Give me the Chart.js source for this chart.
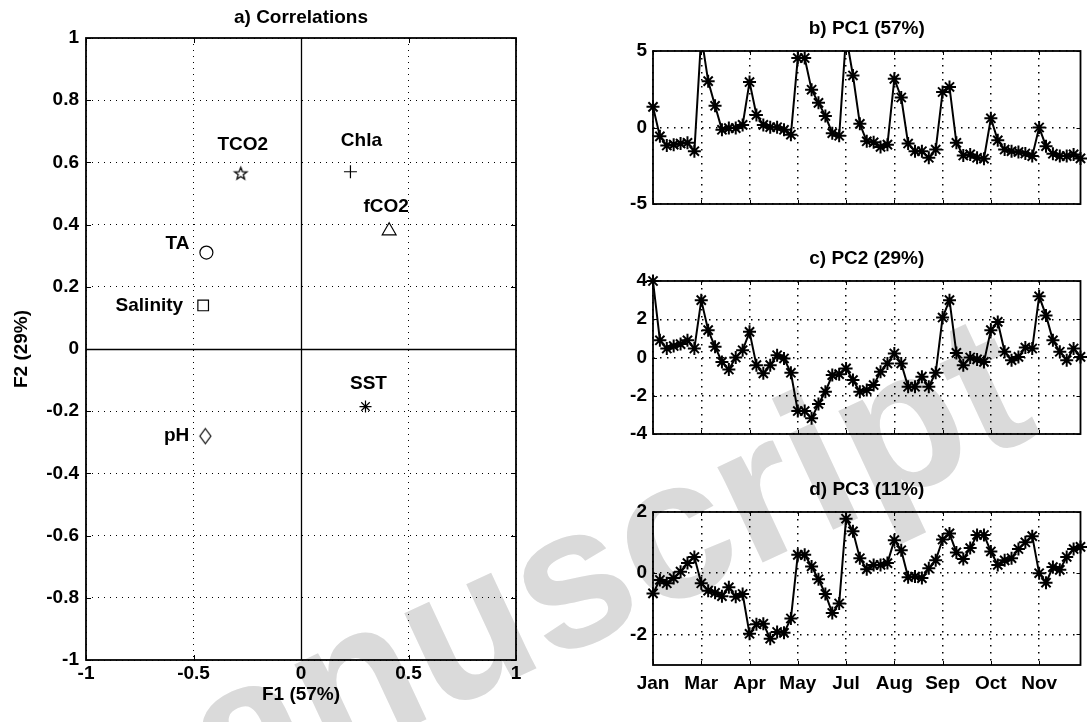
<!DOCTYPE html>
<html>
<head>
<meta charset="utf-8">
<script src="https://cdn.jsdelivr.net/npm/chart.js@4/dist/chart.umd.min.js"></script>
<style>
  html, body { margin: 0; padding: 0; background: #fff; }
  #wrap { position: relative; width: 1089px; height: 722px; overflow: hidden; background: #fff; }
  #wrap canvas { position: absolute; left: 0; top: 0; }
</style>
</head>
<body>
<div id="wrap">
  <canvas id="stamp" width="1089" height="722"></canvas>
  <canvas id="corr" width="1089" height="722"></canvas>
  <canvas id="pc1" width="1089" height="722"></canvas>
  <canvas id="pc2" width="1089" height="722"></canvas>
  <canvas id="pc3" width="1089" height="722"></canvas>
</div>
<script>
// ---- a) correlation circle: loadings of each variable on F1 / F2 ----
const variables  = ['TCO2', 'Chla', 'fCO2', 'TA', 'Salinity', 'SST', 'pH'];
const f1Loadings = [-0.28, 0.23, 0.41, -0.44, -0.455, 0.30, -0.445];
const f2Loadings = [0.565, 0.57, 0.38, 0.31, 0.14, -0.185, -0.28];
const corrTicksX = [-1, -0.5, 0, 0.5, 1];
const corrTicksY = [-1, -0.8, -0.6, -0.4, -0.2, 0, 0.2, 0.4, 0.6, 0.8, 1];

// ---- b-d) principal component scores through the year ----
const monthLabels    = ['Jan', 'Mar', 'Apr', 'May', 'Jul', 'Aug', 'Sep', 'Oct', 'Nov'];
const monthTickIndex = [0, 7, 14, 21, 28, 35, 42, 49, 56];
const pc1Scores = [1.35, -0.58, -1.18, -1.12, -1.05, -1.0, -1.55, 6.0, 3.03, 1.42,
  -0.15, -0.04, -0.04, 0.17, 2.97, 0.82, 0.17, 0.02, 0.02, -0.15,
  -0.47, 4.54, 4.54, 2.47, 1.61, 0.75, -0.37, -0.54, 6.0, 3.4,
  0.24, -0.9, -0.97, -1.27, -1.12, 3.18, 1.96, -1.05, -1.55, -1.55,
  -1.98, -1.44, 2.32, 2.65, -1.0, -1.83, -1.76, -1.98, -2.04, 0.6,
  -0.84, -1.44, -1.55, -1.6, -1.7, -1.87, 0.0, -1.22, -1.72, -1.87,
  -1.87, -1.76, -2.02];
const pc2Scores = [4.0, 0.9, 0.47, 0.6, 0.7, 0.9, 0.47, 3.0, 1.43, 0.56,
  -0.23, -0.63, 0.0, 0.38, 1.34, -0.4, -0.83, -0.4, 0.12, -0.05,
  -0.8, -2.8, -2.8, -3.18, -2.43, -1.79, -0.92, -0.87, -0.57, -1.18,
  -1.79, -1.7, -1.44, -0.75, -0.31, 0.21, -0.31, -1.53, -1.53, -1.0,
  -1.53, -0.8, 2.09, 3.0, 0.24, -0.4, 0.0, -0.1, -0.23, 1.43,
  1.86, 0.3, -0.14, 0.03, 0.52, 0.47, 3.2, 2.2, 0.9, 0.3,
  -0.14, 0.47, 0.03];
const pc3Scores = [-0.66, -0.22, -0.33, -0.16, 0.05, 0.33, 0.53, -0.33, -0.57, -0.64,
  -0.75, -0.46, -0.77, -0.68, -1.98, -1.67, -1.65, -2.14, -1.92, -1.95,
  -1.48, 0.6, 0.6, 0.22, -0.2, -0.68, -1.3, -0.99, 1.78, 1.37,
  0.49, 0.13, 0.27, 0.27, 0.33, 1.08, 0.75, -0.13, -0.11, -0.16,
  0.16, 0.42, 1.1, 1.3, 0.68, 0.46, 0.82, 1.25, 1.25, 0.71,
  0.27, 0.42, 0.49, 0.79, 1.01, 1.21, 0.0, -0.31, 0.2, 0.11,
  0.53, 0.79, 0.86];
const pc1Ticks = [-5, 0, 5];
const pc2Ticks = [-4, -2, 0, 2, 4];
const pc3Ticks = [-2, 0, 2];

// ---- shared styling ----
const FONT_FAMILY = "'Liberation Sans', Arial, Helvetica, sans-serif";
const FONT = 'bold 19px ' + FONT_FAMILY;
Chart.defaults.font.family = FONT_FAMILY;
Chart.defaults.font.size = 19;
Chart.defaults.font.weight = 'bold';
Chart.defaults.color = '#000';

const fmt = v => String(Number(v.toFixed(2)));
const fixedTicks = list => scale => { scale.ticks = list.map(v => ({ value: v })); };

// Hollow marker shapes that Chart.js does not provide natively
function pentagram(r) {
  const size = Math.ceil(r * 2 + 4), c = document.createElement('canvas');
  c.width = c.height = size;
  const g = c.getContext('2d'), cx = size / 2, cy = size / 2 + 0.5;
  g.beginPath();
  for (let k = 0; k < 10; k++) {
    const rr = k % 2 === 0 ? r : r * 0.42;
    const a = -Math.PI / 2 + k * Math.PI / 5;
    const px = cx + rr * Math.cos(a), py = cy + rr * Math.sin(a);
    k === 0 ? g.moveTo(px, py) : g.lineTo(px, py);
  }
  g.closePath(); g.lineWidth = 1.3; g.strokeStyle = '#000'; g.stroke();
  return c;
}
function tallDiamond(w, h) {
  const c = document.createElement('canvas');
  c.width = w + 4; c.height = h + 4;
  const g = c.getContext('2d'), cx = c.width / 2, cy = c.height / 2;
  g.beginPath();
  g.moveTo(cx, cy - h / 2); g.lineTo(cx + w / 2, cy); g.lineTo(cx, cy + h / 2); g.lineTo(cx - w / 2, cy);
  g.closePath(); g.lineWidth = 1.2; g.strokeStyle = '#000'; g.stroke();
  return c;
}

// Axes box, inward tick marks, optional zero lines, panel and axis titles
const boxPlugin = {
  id: 'box',
  beforeDatasetsDraw(chart, args, o) {
    if (!o.zeroLines) return;
    const { ctx, chartArea: a, scales: { x, y } } = chart;
    ctx.save();
    ctx.strokeStyle = '#000'; ctx.lineWidth = 1.3;
    const x0 = Math.round(x.getPixelForValue(0)) + 0.5, y0 = Math.round(y.getPixelForValue(0)) + 0.5;
    ctx.beginPath();
    ctx.moveTo(x0, a.top); ctx.lineTo(x0, a.bottom);
    ctx.moveTo(a.left, y0); ctx.lineTo(a.right, y0);
    ctx.stroke();
    ctx.restore();
  },
  afterDatasetsDraw(chart, args, o) {
    const { ctx, chartArea: a, scales: { x, y } } = chart;
    ctx.save();
    ctx.strokeStyle = '#000'; ctx.lineWidth = 1;
    ctx.beginPath();
    const t = o.tickLen || 5;
    x.ticks.forEach(tk => {
      const p = Math.round(x.getPixelForValue(tk.value)) + 0.5;
      ctx.moveTo(p, a.bottom); ctx.lineTo(p, a.bottom - t);
      ctx.moveTo(p, a.top); ctx.lineTo(p, a.top + t);
    });
    y.ticks.forEach(tk => {
      const p = Math.round(y.getPixelForValue(tk.value)) + 0.5;
      ctx.moveTo(a.left, p); ctx.lineTo(a.left + t, p);
      ctx.moveTo(a.right, p); ctx.lineTo(a.right - t, p);
    });
    ctx.stroke();
    ctx.lineWidth = 1.8;
    ctx.strokeRect(a.left, a.top, a.right - a.left, a.bottom - a.top);

    ctx.fillStyle = '#000'; ctx.font = FONT;
    ctx.textAlign = 'center'; ctx.textBaseline = 'middle';
    if (o.title) ctx.fillText(o.title, (a.left + a.right) / 2, a.top - o.titleGap);
    if (o.xTitle) ctx.fillText(o.xTitle, (a.left + a.right) / 2, a.bottom + o.xTitleGap);
    if (o.yTitle) {
      ctx.translate(a.left - o.yTitleGap, (a.top + a.bottom) / 2);
      ctx.rotate(-Math.PI / 2);
      ctx.fillText(o.yTitle, 0, 0);
    }
    ctx.restore();
  }
};

// Variable names written next to their markers
const nameOffsets = [
  { dx: 2, dy: -29, align: 'center' },   // TCO2
  { dx: 11, dy: -31, align: 'center' },  // Chla
  { dx: -3, dy: -24, align: 'center' },  // fCO2
  { dx: -17, dy: -9, align: 'right' },   // TA
  { dx: -20, dy: 0, align: 'right' },    // Salinity
  { dx: 3, dy: -23, align: 'center' },   // SST
  { dx: -16, dy: 0, align: 'right' }     // pH
];
const namePlugin = {
  id: 'names',
  afterDatasetsDraw(chart) {
    const { ctx, scales: { x, y } } = chart;
    ctx.save();
    ctx.font = FONT; ctx.fillStyle = '#000'; ctx.textBaseline = 'middle';
    variables.forEach((name, i) => {
      const off = nameOffsets[i];
      ctx.textAlign = off.align;
      ctx.fillText(name, x.getPixelForValue(f1Loadings[i]) + off.dx, y.getPixelForValue(f2Loadings[i]) + off.dy);
    });
    ctx.restore();
  }
};

const dottedGrid = { color: '#000', lineWidth: 1, drawTicks: false };
const dottedBorder = { display: false, dash: [1, 5] };
const dottedGridBold = { color: '#000', lineWidth: 1.5, drawTicks: false };
const dottedBorderBold = { display: false, dash: [1.5, 5.5] };

// ---- a) Correlations ----
new Chart(document.getElementById('corr'), {
  type: 'scatter',
  data: {
    datasets: [{
      data: variables.map((_, i) => ({ x: f1Loadings[i], y: f2Loadings[i] })),
      pointStyle: [pentagram(6.5), 'cross', 'triangle', 'circle', 'rect', 'star', tallDiamond(11, 15)],
      pointRadius: [6.5, 6.5, 8, 6.5, 7.5, 6, 7],
      pointBorderWidth: 1.2,
      borderColor: '#000',
      backgroundColor: 'rgba(0,0,0,0)',
      clip: false
    }]
  },
  options: {
    responsive: false, animation: false, devicePixelRatio: 1,
    layout: { padding: { left: 0, top: 38, right: 573, bottom: 0 } },
    plugins: {
      legend: { display: false }, tooltip: { enabled: false },
      box: { zeroLines: true, title: 'a) Correlations', titleGap: 20, xTitle: 'F1 (57%)', xTitleGap: 35, yTitle: 'F2 (29%)', yTitleGap: 64 }
    },
    scales: {
      x: {
        type: 'linear', min: -1, max: 1,
        afterBuildTicks: fixedTicks(corrTicksX),
        afterFit: s => { s.height = 62; },
        grid: dottedGrid, border: dottedBorder,
        ticks: { padding: 2, autoSkip: false, maxRotation: 0, callback: v => fmt(v) }
      },
      y: {
        type: 'linear', min: -1, max: 1,
        afterBuildTicks: fixedTicks(corrTicksY),
        afterFit: s => { s.width = 86; },
        grid: dottedGrid, border: dottedBorder,
        ticks: { padding: 7, autoSkip: false, callback: v => fmt(v) }
      }
    }
  },
  plugins: [boxPlugin, namePlugin]
});

// ---- b) - d) score time series ----
function scorePanel(id, scores, yMin, yMax, yTicks, title, top, bottom, showMonths, clipTop) {
  return new Chart(document.getElementById(id), {
    type: 'line',
    data: {
      datasets: [{
        data: scores.map((v, i) => ({ x: i, y: v })),
        borderColor: '#000', borderWidth: 2, tension: 0, fill: false,
        pointStyle: 'star', pointRadius: 6.5, pointBorderWidth: 2,
        pointBorderColor: '#000', pointBackgroundColor: '#000',
        clip: { left: 10, right: 10, top: clipTop, bottom: 0 }
      }]
    },
    options: {
      responsive: false, animation: false, devicePixelRatio: 1,
      layout: { padding: { left: 593, top: top, right: 6, bottom: showMonths ? 0 : 722 - bottom } },
      plugins: {
        legend: { display: false }, tooltip: { enabled: false },
        box: { title: title, titleGap: 22, tickLen: 4 }
      },
      scales: {
        x: {
          type: 'linear', min: 0, max: scores.length - 1,
          afterBuildTicks: fixedTicks(monthTickIndex),
          afterFit: s => { s.height = showMonths ? 722 - bottom : 0; },
          grid: dottedGridBold, border: dottedBorderBold,
          ticks: {
            display: showMonths, padding: 7, autoSkip: false, maxRotation: 0,
            callback: v => monthLabels[monthTickIndex.indexOf(v)]
          }
        },
        y: {
          type: 'linear', min: yMin, max: yMax,
          afterBuildTicks: fixedTicks(yTicks),
          afterFit: s => { s.width = 60; },
          grid: dottedGridBold, border: dottedBorderBold,
          ticks: { padding: 6, autoSkip: false, callback: v => fmt(v) }
        }
      }
    },
    plugins: [boxPlugin]
  });
}
scorePanel('pc1', pc1Scores, -5, 5, pc1Ticks, 'b) PC1 (57%)', 51, 204, false, 0);
scorePanel('pc2', pc2Scores, -4, 4, pc2Ticks, 'c) PC2 (29%)', 281, 434, false, 8);
scorePanel('pc3', pc3Scores, -3, 2, pc3Ticks, 'd) PC3 (11%)', 512, 665, true, 8);

// ---- light grey stamp across the page ----
(function () {
  const g = document.getElementById('stamp').getContext('2d');
  g.save();
  g.translate(65, 888);
  g.rotate(-25 * Math.PI / 180);
  g.font = 'bold 200px ' + FONT_FAMILY;
  g.fillStyle = '#dadada';
  g.textBaseline = 'alphabetic';
  g.fillText('manuscript', 0, 0);
  g.restore();
})();
</script>
</body>
</html>
